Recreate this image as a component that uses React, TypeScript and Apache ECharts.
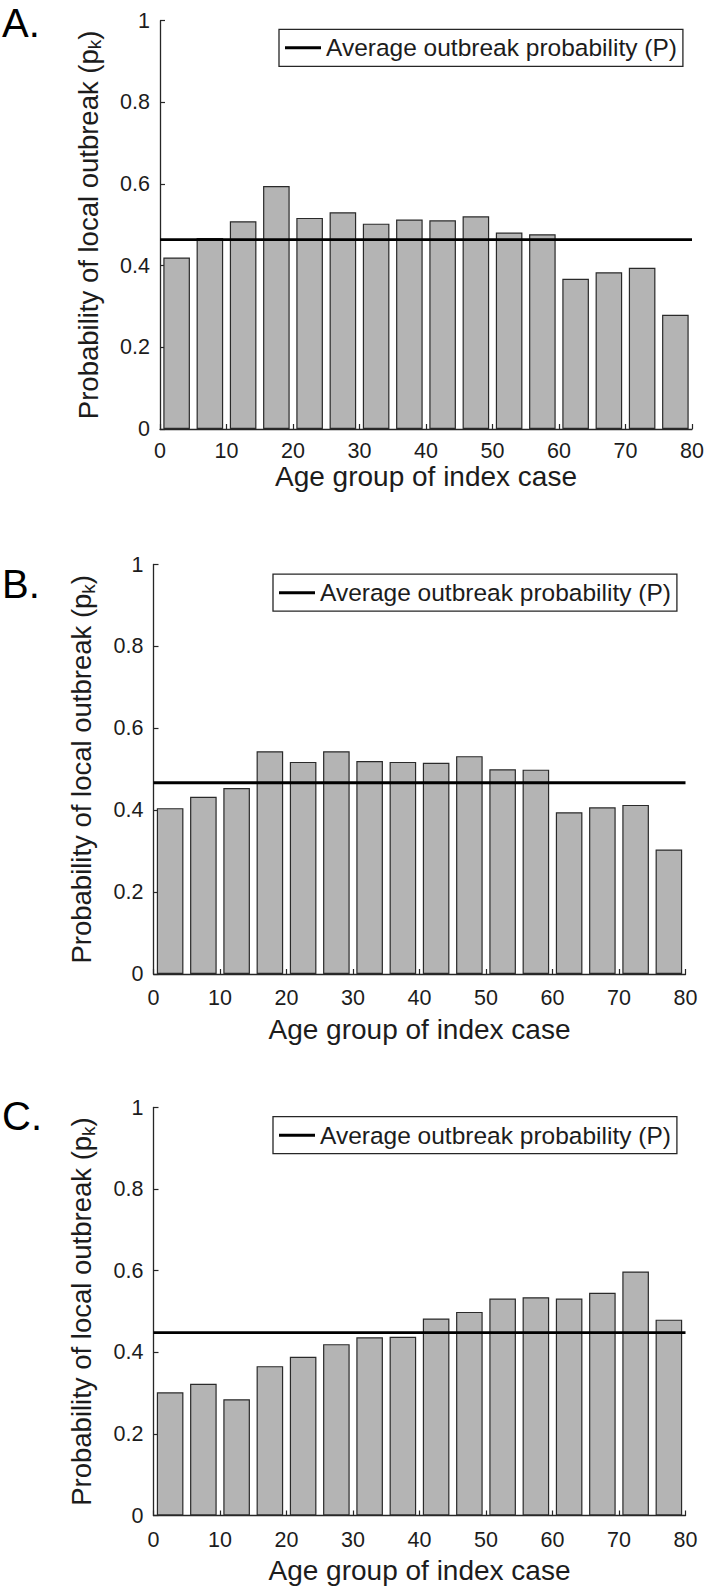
import React, { useEffect, useRef } from "react";
import * as echarts from "echarts";

// ---- data ----
const ageMidpoints = [2.5, 7.5, 12.5, 17.5, 22.5, 27.5, 32.5, 37.5, 42.5, 47.5, 52.5, 57.5, 62.5, 67.5, 72.5, 77.5];
const probA = [0.42, 0.468, 0.509, 0.595, 0.517, 0.531, 0.503, 0.513, 0.511, 0.521, 0.481, 0.477, 0.368, 0.384, 0.395, 0.28];
const probB = [0.405, 0.433, 0.454, 0.544, 0.518, 0.544, 0.52, 0.518, 0.516, 0.532, 0.5, 0.499, 0.395, 0.407, 0.413, 0.304];
const probC = [0.302, 0.323, 0.285, 0.366, 0.389, 0.42, 0.437, 0.438, 0.483, 0.499, 0.532, 0.535, 0.532, 0.546, 0.598, 0.48];
const averageP = [0.464, 0.467, 0.448];
const panelLabels = ["A.", "B.", "C."];
const legendLabel = "Average outbreak probability (P)";
const xTitle = "Age group of index case";
const xRange = [0, 80];
const xTickStep = 10;
const yRange = [0, 1];
const yTickStep = 0.2;

const FONT = '"Liberation Sans", Arial, Helvetica, sans-serif';
const INK = "#1c1c1c";

// layout per panel (pixels)
const panels = [
  { left: 160, top: 20.7, width: 532, height: 408.3, labelTop: 3, legendLeft: 279, legendTop: 29.3, xNameGap: 30, xLabelMargin: 11 },
  { left: 153.5, top: 564.5, width: 532, height: 409.5, labelTop: 564, legendLeft: 273, legendTop: 574.2, xNameGap: 41, xLabelMargin: 13 },
  { left: 153.5, top: 1107.5, width: 532, height: 408, labelTop: 1096, legendLeft: 273, legendTop: 1116.7, xNameGap: 41, xLabelMargin: 13 },
];
const seriesValues = [probA, probB, probC];

export default function App() {
  const ref = useRef<HTMLDivElement>(null);
  useEffect(() => {
    if (!ref.current) return;
    const chart = echarts.init(ref.current, undefined, { renderer: "svg" });
    const grid: any[] = [];
    const xAxis: any[] = [];
    const yAxis: any[] = [];
    const series: any[] = [];
    const legend: any[] = [];
    const graphic: any[] = [];
    panels.forEach((p, i) => {
      grid.push({ left: p.left, top: p.top, width: p.width, height: p.height, containLabel: false });
      xAxis.push({
        type: "value",
        gridIndex: i,
        min: xRange[0],
        max: xRange[1],
        interval: xTickStep,
        name: xTitle,
        nameLocation: "middle",
        nameGap: p.xNameGap,
        nameTextStyle: { fontFamily: FONT, fontSize: 28, color: INK },
        axisLine: { show: true, lineStyle: { color: "#262626", width: 1.3 } },
        axisTick: { show: true, inside: true, length: 5, lineStyle: { color: "#262626", width: 1.2 } },
        axisLabel: { fontFamily: FONT, fontSize: 21.5, color: INK, margin: p.xLabelMargin },
        splitLine: { show: false },
      });
      yAxis.push({
        type: "value",
        gridIndex: i,
        min: yRange[0],
        max: yRange[1],
        interval: yTickStep,
        name: "{a|Probability of local outbreak (p}{b|k}{a|)}",
        nameLocation: "middle",
        nameGap: 56,
        nameRotate: 90,
        nameTextStyle: {
          fontFamily: FONT,
          fontSize: 27.5,
          color: INK,
          rich: {
            a: { fontFamily: FONT, fontSize: 27.5, color: INK, lineHeight: 32 },
            b: { fontFamily: FONT, fontSize: 19, color: INK, lineHeight: 14, verticalAlign: "bottom" },
          },
        },
        axisLine: { show: true, lineStyle: { color: "#262626", width: 1.3 } },
        axisTick: { show: true, inside: true, length: 5, lineStyle: { color: "#262626", width: 1.2 } },
        axisLabel: { fontFamily: FONT, fontSize: 21.5, color: INK, margin: 10 },
        splitLine: { show: false },
      });
      series.push({
        type: "bar",
        xAxisIndex: i,
        yAxisIndex: i,
        barWidth: (p.width / (xRange[1] - xRange[0])) * 4,
        data: ageMidpoints.map((x, k) => [x, seriesValues[i][k]]),
        itemStyle: { color: "#b4b4b4", borderColor: "#2a2a2a", borderWidth: 1.2 },
        z: 2,
      });
      series.push({
        type: "line",
        name: legendLabel,
        xAxisIndex: i,
        yAxisIndex: i,
        data: [
          [xRange[0], averageP[i]],
          [xRange[1], averageP[i]],
        ],
        symbol: "none",
        color: "#000",
        lineStyle: { color: "#000", width: 2.8 },
        z: 5,
      });
      legend.push({
        data: [legendLabel],
        left: p.legendLeft,
        top: p.legendTop,
        orient: "horizontal",
        padding: [6, 6, 6, 6],
        icon: "rect",
        itemWidth: 36,
        itemHeight: 3,
        borderColor: "#262626",
        borderWidth: 1.3,
        backgroundColor: "#fff",
        selectedMode: false,
        textStyle: { fontFamily: FONT, fontSize: 24.5, color: INK },
      });
      graphic.push({
        type: "text",
        left: 2,
        top: p.labelTop,
        style: { text: panelLabels[i], font: `40px ${FONT}`, fill: "#000" },
      });
    });
    chart.setOption({
      animation: false,
      backgroundColor: "#fff",
      grid,
      xAxis,
      yAxis,
      series,
      legend,
      graphic,
    });
    return () => chart.dispose();
  }, []);
  return <div ref={ref} style={{ position: "absolute", left: 0, top: 0, width: 707, height: 1587 }} />;
}
